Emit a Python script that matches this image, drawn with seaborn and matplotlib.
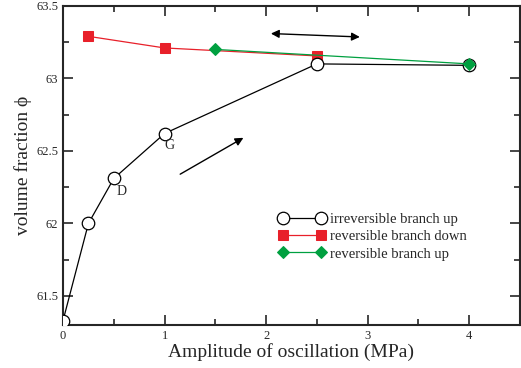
import numpy as np
import pandas as pd
import matplotlib
matplotlib.use("Agg")
import matplotlib.pyplot as plt
import seaborn as sns

# data
irr_x = [0, 0.25, 0.5, 1.0, 2.5, 4.0]
irr_y = [61.33, 62.00, 62.31, 62.62, 63.10, 63.09]
down_x = [0.25, 1.0, 2.5]
down_y = [63.29, 63.21, 63.155]
up_x = [1.5, 4.0]
up_y = [63.20, 63.10]

sns.set_style("ticks")
plt.rcParams['font.family'] = ['Liberation Serif', 'DejaVu Serif']

fig = plt.figure(figsize=(5.21, 3.68), dpi=100)
ax = fig.add_axes([0.121, 0.117, 0.877, 0.867])

sns.lineplot(x=irr_x, y=irr_y, ax=ax, color='black', lw=0.9, marker='o', ms=9,
             mfc='white', mec='black', mew=0.9, label='irreversible branch up', zorder=3)
sns.lineplot(x=down_x, y=down_y, ax=ax, color='#e8202a', lw=0.9, marker='s', ms=7,
             mec='#e8202a', label='reversible branch down', zorder=2)
sns.lineplot(x=up_x, y=up_y, ax=ax, color='#00a040', lw=0.9, marker='D', ms=6,
             mec='#00a040', label='reversible branch up', zorder=4)

ax.annotate('', xy=(2.02, 63.31), xytext=(2.95, 63.285),
            arrowprops=dict(arrowstyle='<|-|>', color='black', lw=1.0, mutation_scale=12))
ax.annotate('', xy=(1.80, 62.60), xytext=(1.13, 62.33),
            arrowprops=dict(arrowstyle='-|>', color='black', lw=1.0, mutation_scale=12))
ax.text(0.53, 62.22, 'D', fontsize=10, ha='left', va='center')
ax.text(1.0, 62.54, 'G', fontsize=10, ha='left', va='center')

ax.set_xlim(0, 4.5)
ax.set_ylim(61.3, 63.5)
ax.set_xticks([0, 1, 2, 3, 4])
ax.set_xticks(np.arange(0, 4.6, 0.5), minor=True)
ax.set_yticks([61.5, 62, 62.5, 63, 63.5])
ax.set_yticks(np.arange(61.5, 63.51, 0.25), minor=True)
ax.set_yticklabels(['61.5', '62', '62.5', '63', '63.5'])
ax.tick_params(which='both', direction='in', top=True, right=True, labelsize=9, width=1.2)
ax.tick_params(which='major', length=7)
ax.tick_params(which='minor', length=4)
for s in ax.spines.values():
    s.set_linewidth(1.5)

ax.set_xlabel('Amplitude of oscillation (MPa)', fontsize=14, labelpad=1)
ax.set_ylabel('volume fraction \u03d5', fontsize=14, labelpad=3)

ax.legend(loc='upper left', bbox_to_anchor=(0.46, 0.37), frameon=False, fontsize=10.5,
          numpoints=2, handlelength=3.2, handletextpad=0.3, labelspacing=0.28, borderaxespad=0)

fig.savefig('out.png', dpi=100)
